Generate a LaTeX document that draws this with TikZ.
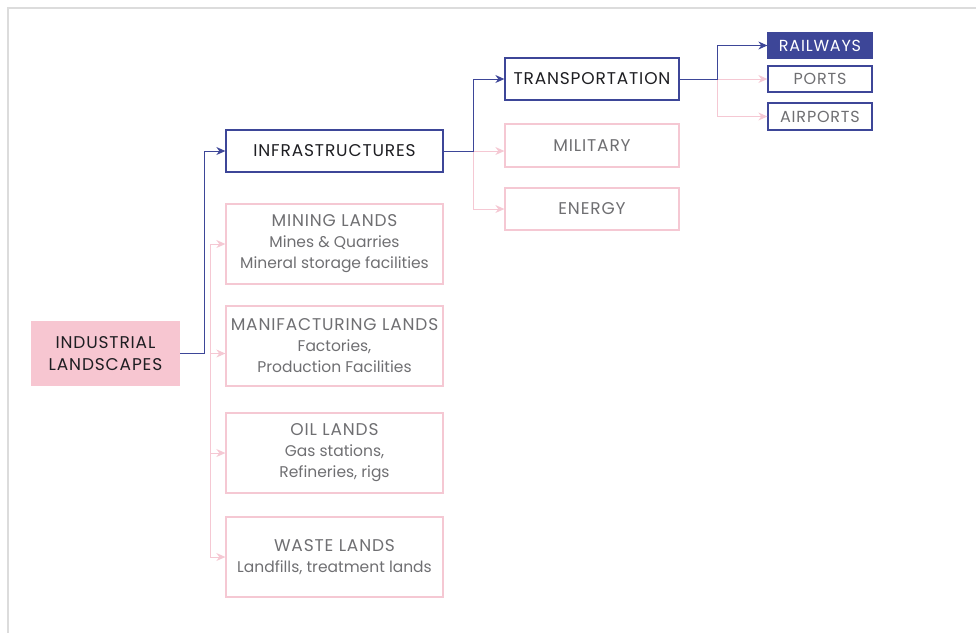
\documentclass[tikz,border=0pt]{standalone}
\usepackage{fontspec}
\setmainfont{Poppins}
\newfontfamily\capsfont{Poppins}[LetterSpace=5]
\usepackage{xcolor}
\usepackage{tikz}
\usetikzlibrary{arrows.meta, positioning}

\definecolor{landblue}{HTML}{3D4698}
\definecolor{landpink}{HTML}{F5C8D3}
\definecolor{landfill}{HTML}{F7C6D1}
\definecolor{landgray}{HTML}{6F6F72}
\definecolor{landink}{HTML}{1E1E22}
\definecolor{framegray}{HTML}{DCDCDC}

% heading line inside a box
\newcommand{\headline}[1]{{\capsfont\fontsize{17}{21}\selectfont #1}}

\begin{document}
\begin{tikzpicture}[x=1pt, y=-1pt]
    \tikzstyle{root} = [rectangle, fill=landfill, minimum width=149pt, minimum height=65pt, align=center, text=landink, font=\capsfont\fontsize{17}{22}\selectfont]
    \tikzstyle{mainbox} = [rectangle, draw=landblue, line width=1.3pt, minimum height=42pt, align=center, text=landink, font=\capsfont\fontsize{17}{18}\selectfont]
    \tikzstyle{sidebox} = [rectangle, draw=landpink, line width=1.3pt, align=center, text=landgray, font=\fontsize{15.5}{21}\selectfont]
    \tikzstyle{leaf} = [rectangle, draw=landblue, line width=1.3pt, minimum width=104pt, minimum height=26pt, inner sep=0pt, text=landgray, font=\capsfont\fontsize{16}{16}\selectfont]
    \tikzstyle{bline} = [landblue, line width=1pt]
    \tikzstyle{pline} = [landpink, line width=1pt]
    \tikzstyle{barrow} = [bline, -{Stealth[length=9pt, width=8pt]}]
    \tikzstyle{parrow} = [pline, -{Stealth[length=9pt, width=8pt]}]

    \useasboundingbox (0,0) rectangle (976,633);
    % frame edges
    \draw [framegray, line width=2pt] (976,7.5) -- (7.5,7.5) -- (7.5,633);

    \node (ind) [root] at (105.5,353.5) {INDUSTRIAL\\LANDSCAPES};

    \node (infra) [mainbox, minimum width=217pt] at (334.5,151) {INFRASTRUCTURES};
    \node (mining) [sidebox, minimum width=217pt, minimum height=80pt] at (334.5,244) {\headline{MINING LANDS}\\Mines \& Quarries\\Mineral storage facilities};
    \node (manif) [sidebox, minimum width=217pt, minimum height=80pt] at (334.5,346) {\headline{MANIFACTURING LANDS}\\Factories,\\Production Facilities};
    \node (oil) [sidebox, minimum width=217pt, minimum height=80pt] at (334.5,453) {\headline{OIL LANDS}\\Gas stations,\\Refineries, rigs};
    \node (waste) [sidebox, minimum width=217pt, minimum height=80pt] at (334.5,557) {\headline{WASTE LANDS}\\Landfills, treatment lands};

    \node (trans) [mainbox, minimum width=174pt] at (592,79) {TRANSPORTATION};
    \node (military) [sidebox, minimum width=174pt, minimum height=43pt, font=\capsfont\fontsize{17}{18}\selectfont] at (592,145.5) {MILITARY};
    \node (energy) [sidebox, minimum width=174pt, minimum height=42pt, font=\capsfont\fontsize{17}{18}\selectfont] at (592,209) {ENERGY};

    \node (rail) [leaf, fill=landblue, text=white, minimum height=25pt] at (820,45.5) {RAILWAYS};
    \node (ports) [leaf] at (820,79) {PORTS};
    \node (airports) [leaf, minimum height=27pt] at (820,116.5) {AIRPORTS};

    % branch points
    \coordinate (indsplit) at (204,353.5);
    \coordinate (landsplit) at (210,353.5);
    \coordinate (infrasplit) at (473,151);
    \coordinate (transsplit) at (717,79);

    % land uses
    \draw [pline] (landsplit |- mining.west) -- (landsplit |- waste.west);
    \draw [parrow] (landsplit |- mining.west) -- (mining.west);
    \draw [parrow] (landsplit |- ind.east) -- (manif.west |- ind.east);
    \draw [parrow] (landsplit |- oil.west) -- (oil.west);
    \draw [parrow] (landsplit |- waste.west) -- (waste.west);
    \draw [barrow] (ind.east) -- (indsplit) |- (infra.west);

    % infrastructures
    \draw [parrow] (infrasplit) -- (military.west |- infrasplit);
    \draw [parrow] (infrasplit) |- (energy.west);
    \draw [barrow] (infra.east) -- (infrasplit) |- (trans.west);

    % transportation
    \draw [parrow] (transsplit) -- (ports.west);
    \draw [parrow] (transsplit) |- (airports.west);
    \draw [barrow] (trans.east) -- (transsplit) |- (rail.west);
\end{tikzpicture}
\end{document}
